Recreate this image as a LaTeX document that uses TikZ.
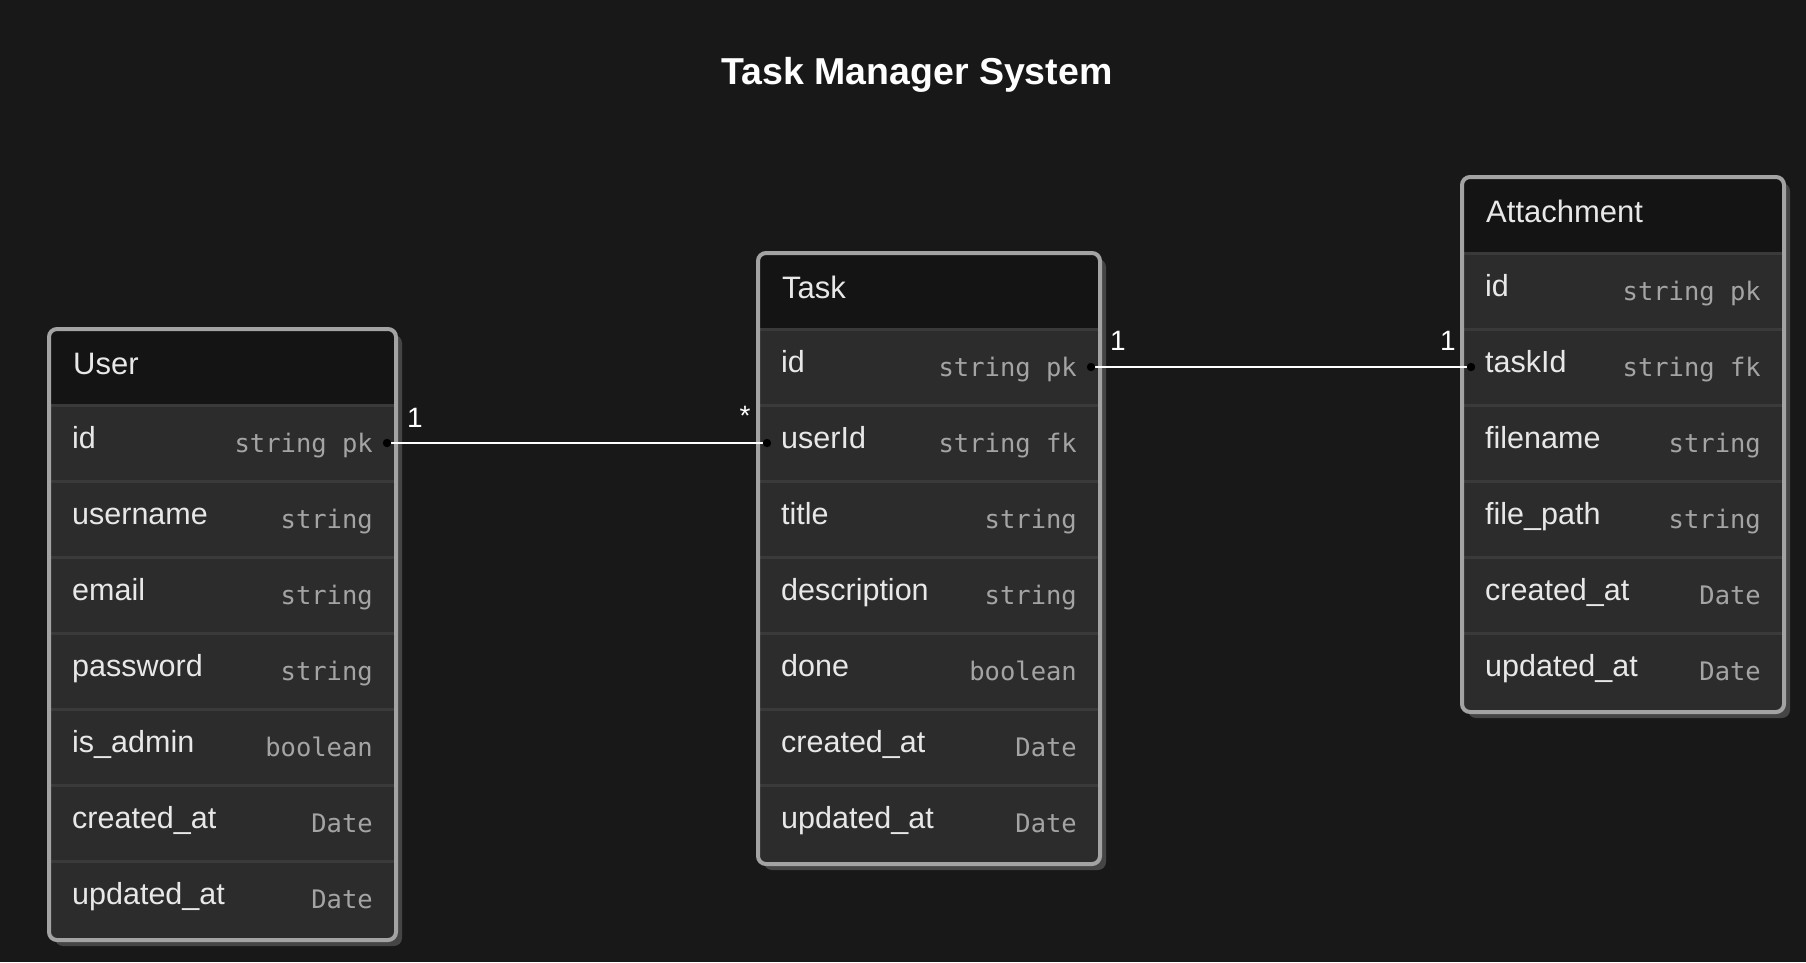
\documentclass[tikz,border=0pt]{standalone}
\usepackage{fontspec}
\setmainfont{Liberation Sans}
\newfontfamily\monof{DejaVu Sans Mono}
\usetikzlibrary{calc}
\definecolor{bg}{HTML}{181818}
\definecolor{hdr}{HTML}{141414}
\definecolor{rowc}{HTML}{2C2C2C}
\definecolor{sepc}{HTML}{3A3A3A}
\definecolor{brd}{HTML}{A3A3A3}
\definecolor{shd}{HTML}{454545}
\definecolor{namec}{HTML}{E8E8E8}
\definecolor{typec}{HTML}{A4A4A4}
\tikzset{
  entname/.style={anchor=base west, text=namec, inner sep=0pt, font=\fontsize{31}{32}\selectfont},
  attrname/.style={anchor=base west, text=namec, inner sep=0pt, font=\fontsize{30.5}{31}\selectfont},
  attrtype/.style={anchor=base east, text=typec, inner sep=0pt, font=\monof\fontsize{25.5}{26}\selectfont},
  conn/.style={draw=white, line width=2.4pt},
  enddot/.style={fill=black},
  mult/.style={text=white, inner sep=0pt, font=\fontsize{28}{29}\selectfont},
  titlestyle/.style={anchor=base, text=white, inner sep=0pt, font=\bfseries\fontsize{37.5}{38}\selectfont}
}
\newcommand\erentity[6]{%
  \foreach \n/\t [count=\i] in {#6} {\xdef\nrows{\i}}
  \pgfmathsetmacro\B{#5+76+76*\nrows+3}
  \fill[shd, rounded corners=8pt] (#3+6,#5+6) rectangle (#4+6,\B+6);
  \begin{scope}
    \clip[rounded corners=8pt] (#3,#5) rectangle (#4,\B);
    \fill[rowc] (#3,#5) rectangle (#4,\B);
    \fill[hdr] (#3,#5) rectangle (#4,#5+76);
  \end{scope}
  \node[entname] (#1) at (#3+24,#5+45) {#2};
  \foreach \n/\t [count=\i] in {#6} {
    \pgfmathsetmacro\rt{#5+76*\i}
    \draw[sepc, line width=3pt] (#3,\rt) -- (#4,\rt);
    \node[attrname] (#1-\i) at (#3+23,\rt+43) {\n};
    \node[attrtype] (#1-\i-t) at (#4-23,\rt+47) {\t};
    \coordinate (#1-\i-l) at (#3+9,\rt+38);
    \coordinate (#1-\i-r) at (#4-9,\rt+38);
  }
  \draw[brd, line width=4pt, rounded corners=8pt] (#3,#5) rectangle (#4,\B);
}
\begin{document}
\begin{tikzpicture}[x=1pt,y=-1pt]
\useasboundingbox (0,0) rectangle (1806,962);
\fill[bg] (0,0) rectangle (1806,962);
\node[titlestyle] (title) at (917,84) {Task Manager System};

\erentity{User}{User}{49}{396}{329}{id/string pk, username/string, email/string, password/string, is\_admin/boolean, created\_at/Date, updated\_at/Date}
\erentity{Task}{Task}{758}{1100}{253}{id/string pk, userId/string fk, title/string, description/string, done/boolean, created\_at/Date, updated\_at/Date}
\erentity{Att}{Attachment}{1462}{1784}{177}{id/string pk, taskId/string fk, filename/string, file\_path/string, created\_at/Date, updated\_at/Date}

\draw[conn] (User-1-r) -- (Task-2-l);
\draw[conn] (Task-1-r) -- (Att-2-l);
\foreach \p in {User-1-r, Task-2-l, Task-1-r, Att-2-l} {\fill[enddot] (\p) circle[radius=4.2pt];}

\node[mult] (m1) at ($(User-1-r)+(28,-25)$) {1};
\node[mult] (m2) at ($(Task-2-l)+(-22,-27)$) {*};
\node[mult] (m3) at ($(Task-1-r)+(27,-26)$) {1};
\node[mult] (m4) at ($(Att-2-l)+(-23,-26)$) {1};
\end{tikzpicture}
\end{document}
